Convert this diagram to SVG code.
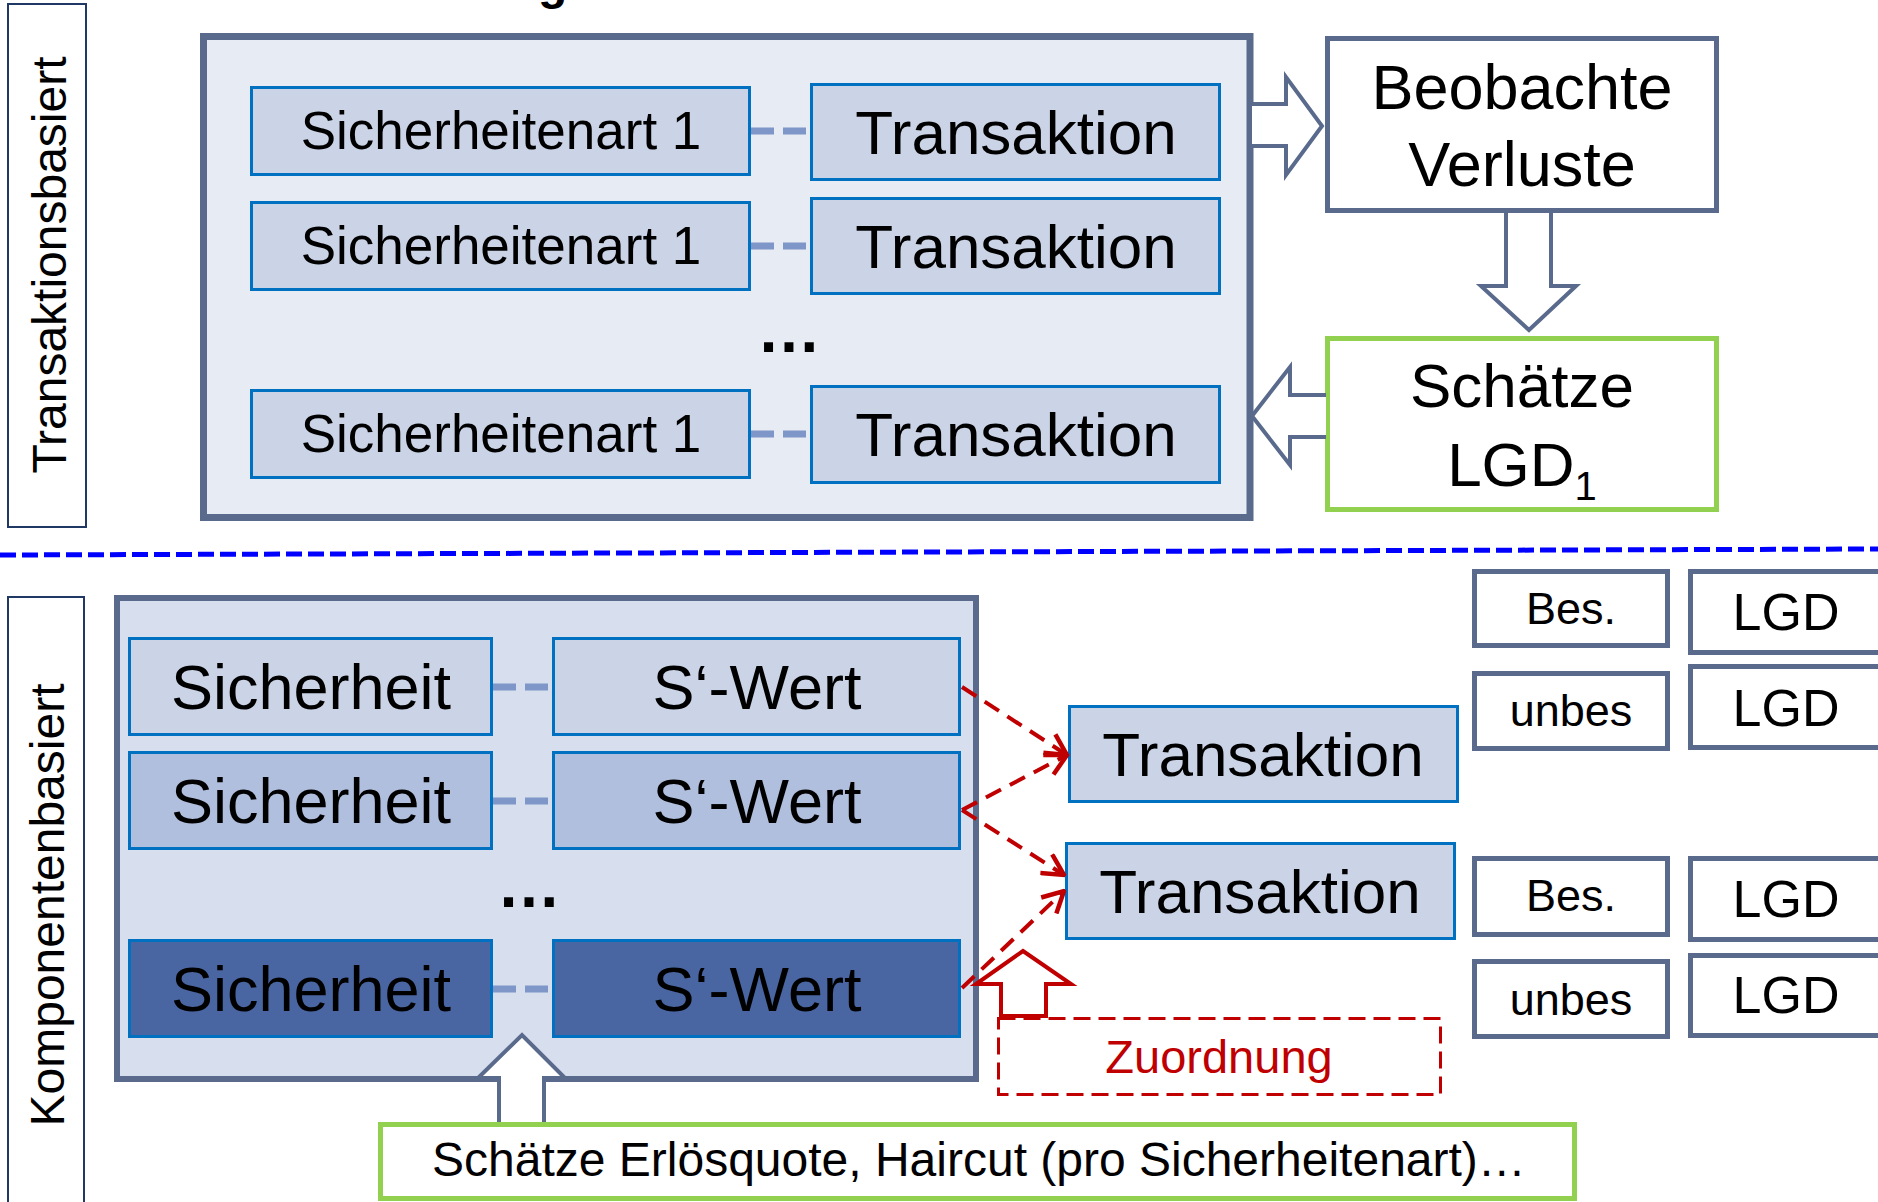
<svg xmlns="http://www.w3.org/2000/svg" width="1878" height="1202" viewBox="0 0 1878 1202">
<defs>
<style>
text{font-family:"Liberation Sans",Arial,sans-serif;fill:#000}
.lbl{fill:#fff;stroke:#1f3864;stroke-width:2}
.blue{fill:#cbd4e7;stroke:#0070c0;stroke-width:3}
.gray{fill:#fff;stroke:#596a8c;stroke-width:5}
.green{fill:#fff;stroke:#92d050;stroke-width:5}
.harrow{fill:#fff;stroke:#596a8c;stroke-width:4;stroke-linejoin:miter}
.link{stroke:#7f96c8;stroke-width:7;stroke-dasharray:23 9;fill:none}
.red{stroke:#c00000;stroke-width:4;stroke-dasharray:17 10;fill:none}
.t62{font-size:62px;text-anchor:middle}
.t63{font-size:63px;text-anchor:middle}
.t53{font-size:53px;text-anchor:middle}
.t52{font-size:52px;text-anchor:middle}
.t45{font-size:45px;text-anchor:middle}
.ell{font-size:64px;font-weight:bold;text-anchor:middle}
</style>
<marker id="ah" viewBox="0 0 26 26" refX="24" refY="13" markerWidth="26" markerHeight="26" markerUnits="userSpaceOnUse" orient="auto">
<path d="M3,2 L24,13 L3,24" fill="none" stroke="#c00000" stroke-width="4.5"/>
</marker>
</defs>
<rect width="1878" height="1202" fill="#fff"/>

<text x="538" y="-1" font-size="48" font-weight="bold">g</text>

<g id="label-transaktionsbasiert">
<rect class="lbl" x="8" y="4" width="78" height="523"/>
<text transform="translate(66,265) rotate(-90)" font-size="48" text-anchor="middle">Transaktionsbasiert</text>
</g>

<g id="container-top">
<rect x="203.5" y="36.5" width="1046.5" height="481" fill="#e7ebf4" stroke="#596a8c" stroke-width="7"/>
</g>

<g id="sa1"><rect class="blue" x="251.5" y="87.5" width="498" height="87"/><text class="t53" x="501" y="149">Sicherheitenart 1</text></g>
<g id="sa2"><rect class="blue" x="251.5" y="202.5" width="498" height="87"/><text class="t53" x="501" y="264">Sicherheitenart 1</text></g>
<g id="sa3"><rect class="blue" x="251.5" y="390.5" width="498" height="87"/><text class="t53" x="501" y="452">Sicherheitenart 1</text></g>

<g id="tr1"><rect class="blue" x="811.5" y="84.5" width="408" height="95"/><text class="t62" x="1016" y="154">Transaktion</text></g>
<g id="tr2"><rect class="blue" x="811.5" y="198.5" width="408" height="95"/><text class="t62" x="1016" y="268">Transaktion</text></g>
<g id="tr3"><rect class="blue" x="811.5" y="386.5" width="408" height="96"/><text class="t62" x="1016" y="456">Transaktion</text></g>

<g id="ellipsis-top"><text class="ell" x="789" y="352">…</text></g>

<g id="beobachte">
<rect class="gray" x="1327.5" y="38.5" width="389" height="172"/>
<text class="t62" x="1522" y="109" style="font-size:63px">Beobachte</text>
<text class="t62" x="1522" y="186" style="font-size:63px">Verluste</text>
</g>

<g id="schaetze-lgd">
<rect class="green" x="1327.5" y="338.5" width="389" height="171"/>
<text class="t62" x="1522" y="407">Schätze</text>
<text class="t62" x="1522" y="486">LGD<tspan font-size="40" dy="14">1</tspan></text>
</g>

<g id="label-komponentenbasiert">
<rect class="lbl" x="8" y="597" width="76" height="620"/>
<text transform="translate(64,905) rotate(-90)" font-size="48" text-anchor="middle">Komponentenbasiert</text>
</g>

<g id="container-bottom">
<rect x="117" y="598" width="859" height="481" fill="#d7deee" stroke="#596a8c" stroke-width="6"/>
</g>

<g id="si1"><rect class="blue" x="129.5" y="638.5" width="362" height="96"/><text class="t63" x="311" y="709">Sicherheit</text></g>
<g id="sw1"><rect class="blue" x="553.5" y="638.5" width="406" height="96"/><text class="t63" x="757" y="709">S‘-Wert</text></g>
<g id="si2"><rect class="blue" style="fill:#b1bfde" x="129.5" y="752.5" width="362" height="96"/><text class="t63" x="311" y="823">Sicherheit</text></g>
<g id="sw2"><rect class="blue" style="fill:#b1bfde" x="553.5" y="752.5" width="406" height="96"/><text class="t63" x="757" y="823">S‘-Wert</text></g>
<g id="si3"><rect class="blue" style="fill:#4a66a2" x="129.5" y="940.5" width="362" height="96"/><text class="t63" x="311" y="1011">Sicherheit</text></g>
<g id="sw3"><rect class="blue" style="fill:#4a66a2" x="553.5" y="940.5" width="406" height="96"/><text class="t63" x="757" y="1011">S‘-Wert</text></g>

<g id="ellipsis-bottom"><text class="ell" x="529" y="907">…</text></g>

<g id="trA"><rect class="blue" x="1069.5" y="706.5" width="388" height="95"/><text class="t62" x="1263" y="776">Transaktion</text></g>
<g id="trB"><rect class="blue" x="1066.5" y="843.5" width="388" height="95"/><text class="t62" x="1260" y="913">Transaktion</text></g>

<g id="bes1"><rect class="gray" x="1474.5" y="571.5" width="193" height="74"/><text class="t45" x="1571" y="624">Bes.</text></g>
<g id="unbes1"><rect class="gray" x="1474.5" y="673.5" width="193" height="75"/><text class="t45" x="1571" y="726">unbes</text></g>
<g id="bes2"><rect class="gray" x="1474.5" y="858.5" width="193" height="76"/><text class="t45" x="1571" y="911">Bes.</text></g>
<g id="unbes2"><rect class="gray" x="1474.5" y="961.5" width="193" height="75"/><text class="t45" x="1571" y="1015">unbes</text></g>
<g id="lgd1"><rect class="gray" x="1690.5" y="571.5" width="250" height="81"/><text class="t52" x="1786" y="630">LGD</text></g>
<g id="lgd2"><rect class="gray" x="1690.5" y="666.5" width="250" height="81"/><text class="t52" x="1786" y="726">LGD</text></g>
<g id="lgd3"><rect class="gray" x="1690.5" y="858.5" width="250" height="81"/><text class="t52" x="1786" y="917">LGD</text></g>
<g id="lgd4"><rect class="gray" x="1690.5" y="955.5" width="250" height="80"/><text class="t52" x="1786" y="1013">LGD</text></g>

<g id="zuordnung">
<rect x="998.5" y="1018.5" width="442" height="76" fill="none" stroke="#c00000" stroke-width="3" stroke-dasharray="17 8"/>
<text x="1219" y="1073" font-size="47" text-anchor="middle" style="fill:#c00000">Zuordnung</text>
</g>

<g id="schaetze-erloes">
<rect class="green" x="380.5" y="1124.5" width="1194" height="74"/>
<text x="432" y="1176" font-size="48">Schätze Erlösquote, Haircut (pro Sicherheitenart)…</text>
</g>

<g id="connectors">
<line x1="0" y1="555" x2="1878" y2="549" stroke="#0000ff" stroke-width="5" stroke-dasharray="16 6"/>
<line class="link" x1="751" y1="131" x2="807" y2="131"/>
<line class="link" x1="751" y1="246" x2="807" y2="246"/>
<line class="link" x1="751" y1="434" x2="807" y2="434"/>
<line class="link" x1="493" y1="687" x2="550" y2="687"/>
<line class="link" x1="493" y1="801" x2="550" y2="801"/>
<line class="link" x1="493" y1="989" x2="550" y2="989"/>
<path class="harrow" d="M1252,104 H1286 V77 L1322,126 L1286,175 V146 H1252"/>
<path class="harrow" d="M1506,213 V286 H1481 L1529,330 L1576,286 H1551 V213"/>
<path class="harrow" d="M1326,395 H1290 V367 L1252,416 L1290,465 V437 H1326"/>
<path class="harrow" d="M499,1122 V1078 H478 L522,1035 L565,1078 H544 V1122"/>
<path d="M1001,1016 V984 H976 L1023,951 L1071,984 H1046 V1016 Z" fill="#fff" stroke="#c00000" stroke-width="4"/>
<line class="red" x1="962" y1="687" x2="1067" y2="755" marker-end="url(#ah)"/>
<line class="red" x1="962" y1="810" x2="1067" y2="755" marker-end="url(#ah)"/>
<line class="red" x1="962" y1="810" x2="1064" y2="875" marker-end="url(#ah)"/>
<line class="red" x1="962" y1="988" x2="1064" y2="891" marker-end="url(#ah)"/>
</g>
</svg>
